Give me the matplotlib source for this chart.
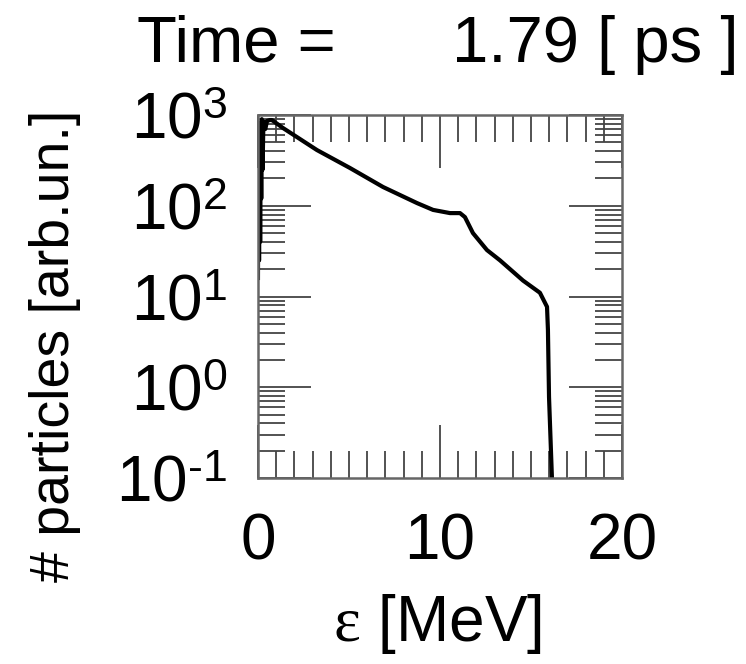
import matplotlib
matplotlib.use("Agg")
import numpy as np
import matplotlib.pyplot as plt
from matplotlib.ticker import MultipleLocator, LogLocator, NullFormatter, FuncFormatter

plt.rcParams['font.family'] = ['Liberation Sans', 'DejaVu Sans']
plt.rcParams['mathtext.fontset'] = 'custom'
plt.rcParams['mathtext.rm'] = 'Liberation Sans'
plt.rcParams['mathtext.it'] = 'Liberation Serif'

# Energy spectrum
energy = [0.0, 0.03, 0.06, 0.09, 0.12, 0.15, 0.18, 0.21, 0.25, 0.30, 0.40, 0.50,
          0.65, 0.77, 1.37, 3.24, 5.05, 6.87, 8.74, 9.62, 10.55, 11.10, 11.37,
          11.81, 12.58, 13.30, 14.56, 15.49, 15.88, 15.93, 15.99, 16.15]
counts = [16, 700, 25, 820, 40, 600, 120, 900, 250, 850, 700, 860,
          880, 880, 720, 411, 261, 161, 107, 90, 83, 83, 75,
          50, 32.5, 25, 15, 11, 7.7, 4.3, 0.78, 0.1]

time_ps = 1.79


def log_label(v, pos):
    # IDL style: short hyphen for negative exponents
    e = int(round(np.log10(v)))
    if e < 0:
        return r'$\mathrm{10}^{\text{-}%d}$' % (-e)
    return r'$\mathrm{10}^{%d}$' % e


fig = plt.figure(figsize=(7.46, 6.64), dpi=100)
ax = fig.add_axes([0.3458, 0.2801, 0.4880, 0.5467])

ax.plot(energy, counts, color='black', lw=3.0, solid_joinstyle='round')

ax.set_yscale('log')
ax.set_xlim(0, 20)
ax.set_ylim(0.1, 1000)

ax.xaxis.set_major_locator(MultipleLocator(10))
ax.xaxis.set_minor_locator(MultipleLocator(1))
ax.yaxis.set_major_locator(LogLocator(base=10, numticks=10))
ax.yaxis.set_minor_locator(LogLocator(base=10, subs=range(2, 10), numticks=10))
ax.yaxis.set_major_formatter(FuncFormatter(log_label))
ax.yaxis.set_minor_formatter(NullFormatter())

ax.tick_params(which='both', direction='in', top=True, right=True,
               color='#444444', width=1.3)
ax.tick_params(which='major', length=38)
ax.tick_params(which='minor', length=19.5)
ax.tick_params(axis='x', which='major', labelsize=46, pad=25)
ax.tick_params(axis='y', which='major', labelsize=46, pad=22)

for sp in ax.spines.values():
    sp.set_color('#666666')
    sp.set_linewidth(1.8)

fig.text(137 / 746, 1 - 62 / 664, 'Time =', fontsize=47, ha='left', va='baseline')
fig.text(738 / 746, 1 - 62 / 664, f'{time_ps:.2f} [ ps ]', fontsize=47,
         ha='right', va='baseline')

fig.text(437 / 746, 1 - 624 / 664, r'$ε$ [MeV]', fontsize=46, ha='center', va='center')
fig.text(55 / 746, 1 - 346 / 664, '# particles [arb.un.]', fontsize=40,
         rotation=90, ha='center', va='center')

fig.savefig('out.png', dpi=100)
